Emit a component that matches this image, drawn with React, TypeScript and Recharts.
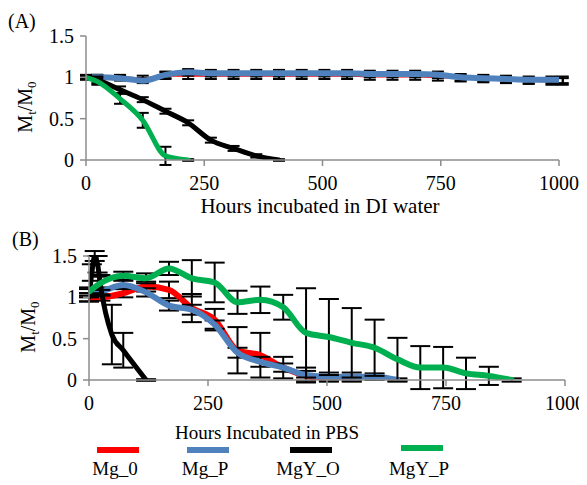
import React from "react";
import { LineChart, Line, XAxis, YAxis, ErrorBar } from "recharts";

type Pt = { h: number; v: number; e: number };

// panel A: DI water
const hoursA = [0, 24, 72, 120, 168, 216, 264, 312, 360, 408, 456, 504, 552, 600, 648, 696, 744, 792, 840, 888, 936, 984, 1008];
const mg0A = [1.0, 1.0, 1.0, 0.99, 1.02, 1.02, 1.02, 1.02, 1.02, 1.02, 1.02, 1.02, 1.02, 1.01, 1.01, 1.01, 1.0, 0.99, 0.98, 0.97, 0.96, 0.95, 0.95];
const mgPA = [1.0, 1.0, 0.99, 0.96, 1.03, 1.06, 1.05, 1.05, 1.05, 1.05, 1.05, 1.05, 1.05, 1.04, 1.04, 1.04, 1.03, 1.0, 0.99, 0.98, 0.97, 0.97, 0.97];
const errRBA = [0.02, 0.03, 0.03, 0.03, 0.04, 0.04, 0.04, 0.04, 0.04, 0.04, 0.04, 0.04, 0.04, 0.04, 0.04, 0.04, 0.04, 0.04, 0.04, 0.04, 0.04, 0.04, 0.04];
const hoursOA = [0, 24, 72, 120, 168, 216, 264, 312, 360, 408];
const mgyOA = [1.0, 0.97, 0.85, 0.73, 0.59, 0.45, 0.24, 0.14, 0.05, 0.0];
const errOA = [0.02, 0.04, 0.04, 0.03, 0.03, 0.03, 0.03, 0.03, 0.02, 0.01];
const hoursPA = [0, 24, 72, 120, 168, 216];
const mgyPA = [1.0, 0.95, 0.74, 0.48, 0.05, 0.0];
const errPA = [0.03, 0.04, 0.06, 0.09, 0.11, 0.01];

// panel B: PBS
const hoursRB = [0, 24, 72, 120, 168, 216, 264, 312, 360, 408, 456, 504, 552];
const mg0B = [1.0, 1.0, 1.05, 1.13, 1.09, 0.87, 0.73, 0.36, 0.3, 0.15, 0.05, 0.01, 0.0];
const err0B = [0.05, 0.04, 0.05, 0.06, 0.1, 0.17, 0.13, 0.28, 0.27, 0.13, 0.06, 0.03, 0.02];
const hoursBB = [0, 24, 72, 120, 168, 216, 264, 312, 360, 408, 456, 504, 552, 600, 648];
const mgPB = [1.05, 1.07, 1.15, 1.06, 0.9, 0.85, 0.67, 0.33, 0.22, 0.15, 0.06, 0.04, 0.04, 0.04, 0.0];
const errPB = [0.05, 0.05, 0.05, 0.05, 0.06, 0.06, 0.05, 0.06, 0.06, 0.05, 0.09, 0.05, 0.05, 0.04, 0.02];
const hoursOB = [0, 6, 12, 18, 24, 48, 72, 120];
const mgyOB = [1.0, 1.3, 1.5, 1.4, 1.15, 0.55, 0.36, 0.0];
const errOB = [0.05, 0.1, 0.06, 0.1, 0.12, 0.36, 0.21, 0.01];
const hoursGB = [0, 24, 72, 120, 168, 216, 264, 312, 360, 408, 456, 504, 552, 600, 648, 696, 744, 792, 840, 888];
const mgyPB = [1.07, 1.17, 1.26, 1.23, 1.35, 1.23, 1.18, 0.94, 0.97, 0.88, 0.57, 0.52, 0.45, 0.39, 0.25, 0.15, 0.15, 0.08, 0.05, 0.0];
const errGB = [0.05, 0.08, 0.05, 0.06, 0.08, 0.22, 0.24, 0.14, 0.16, 0.15, 0.54, 0.46, 0.42, 0.34, 0.26, 0.26, 0.25, 0.19, 0.11, 0.02];

const yTicks = [0, 0.5, 1, 1.5];
const xTicks = [0, 250, 500, 750, 1000];

const names = ["Mg_0", "Mg_P", "MgY_O", "MgY_P"];
const colors = ["#FF0000", "#4F81BD", "#000000", "#00B050"];

const zip = (hs: number[], vs: number[], es: number[]): Pt[] =>
  hs.map((h, i) => ({ h, v: vs[i], e: es[i] }));

const FONT = "Liberation Serif";
const tick = { fill: "#000", fontSize: 20, fontFamily: FONT, style: { fontFamily: FONT } };
const axisLine = { stroke: "#8c8c8c", strokeWidth: 1.5 };

type Series = { name: string; color: string; width: number; data: Pt[] };

const panelA: Series[] = [
  { name: names[0], color: colors[0], width: 2, data: zip(hoursA, mg0A, errRBA) },
  { name: names[1], color: colors[1], width: 6, data: zip(hoursA, mgPA, errRBA) },
  { name: names[2], color: colors[2], width: 5, data: zip(hoursOA, mgyOA, errOA) },
  { name: names[3], color: colors[3], width: 5, data: zip(hoursPA, mgyPA, errPA) },
];

const panelB: Series[] = [
  { name: names[0], color: colors[0], width: 6, data: zip(hoursRB, mg0B, err0B) },
  { name: names[1], color: colors[1], width: 6, data: zip(hoursBB, mgPB, errPB) },
  { name: names[2], color: colors[2], width: 5, data: zip(hoursOB, mgyOB, errOB) },
  { name: names[3], color: colors[3], width: 6, data: zip(hoursGB, mgyPB, errGB) },
];

const Panel = ({ series, margin, cap }: { series: Series[]; margin: any; cap: number }) => (
  <LineChart width={587} height={205} margin={margin} style={{ fontFamily: FONT }}>
    <XAxis
      type="number"
      dataKey="h"
      domain={[0, 1000]}
      ticks={xTicks}
      allowDataOverflow
      tick={tick}
      axisLine={axisLine}
      tickLine={axisLine}
      tickSize={6}
      tickMargin={10}
      height={40}
    />
    <YAxis
      type="number"
      domain={[0, 1.5]}
      ticks={yTicks}
      allowDataOverflow
      tick={tick}
      axisLine={axisLine}
      tickLine={axisLine}
      tickSize={6}
      tickMargin={6}
      width={86}
    />
    {series.map((s) => (
      <Line
        key={s.name}
        data={s.data}
        dataKey="v"
        name={s.name}
        type="monotone"
        stroke={s.color}
        strokeWidth={s.width}
        strokeLinecap="round"
        dot={false}
        isAnimationActive={false}
      >
        <ErrorBar dataKey="e" direction="y" width={cap} stroke="#000" strokeWidth={2} />
      </Line>
    ))}
  </LineChart>
);

const YLabel = ({ x, y }: { x: number; y: number }) => (
  <text x={x} y={y} transform={`rotate(-90 ${x} ${y})`} textAnchor="middle" fontSize={20} fontFamily={FONT} fill="#000">
    M<tspan fontSize={13} dy={4}>t</tspan>
    <tspan dy={-4}>/M</tspan>
    <tspan fontSize={13} dy={4}>0</tspan>
  </text>
);

const legendX = [118, 208, 311, 422];

export default function App() {
  return (
    <div style={{ position: "relative", width: 587, height: 485, margin: "-8px 0 0 -8px", background: "#fff", fontFamily: FONT }}>
      <div style={{ position: "absolute", left: 0, top: 0 }}>
        <Panel series={panelA} cap={6} margin={{ top: 36, right: 28, left: 0, bottom: 5 }} />
      </div>
      <div style={{ position: "absolute", left: 0, top: 220 }}>
        <Panel series={panelB} cap={10} margin={{ top: 36, right: 22, left: 3, bottom: 5 }} />
      </div>
      <svg width={587} height={485} style={{ position: "absolute", left: 0, top: 0, pointerEvents: "none" }}>
        <text x={8} y={28} fontSize={20} fontFamily={FONT}>(A)</text>
        <text x={12} y={246} fontSize={20} fontFamily={FONT}>(B)</text>
        <YLabel x={32} y={107} />
        <YLabel x={35} y={327} />
        <text x={320} y={213} textAnchor="middle" fontSize={21} fontFamily={FONT}>Hours incubated in DI water</text>
        <text x={267} y={439} textAnchor="middle" fontSize={19} fontFamily={FONT}>Hours Incubated in PBS</text>
        {names.map((n, i) => (
          <g key={n}>
            <line x1={legendX[i] - 21} x2={legendX[i] + 21} y1={i === 3 ? 448 : 450} y2={i === 3 ? 448 : 450} stroke={colors[i]} strokeWidth={6} />
            <text x={legendX[i] - 3} y={475} textAnchor="middle" fontSize={19} fontFamily={FONT}>{n}</text>
          </g>
        ))}
      </svg>
    </div>
  );
}
